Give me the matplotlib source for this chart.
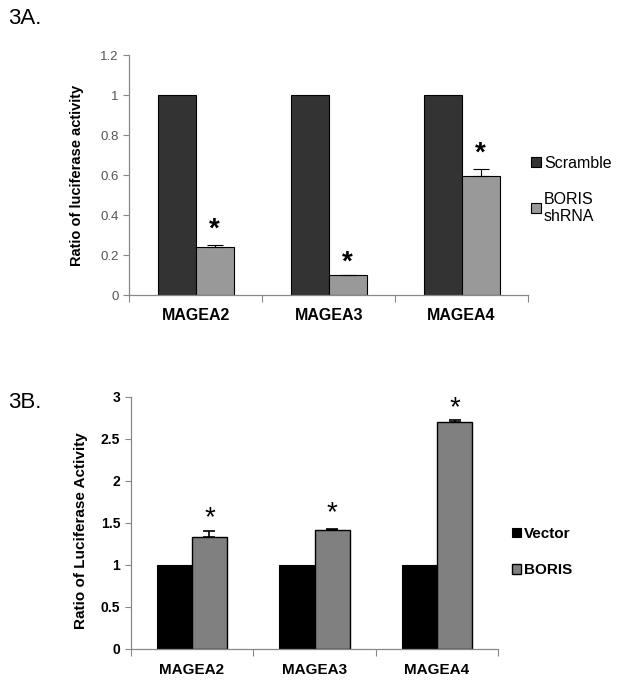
import numpy as np
import matplotlib.pyplot as plt
from matplotlib.transforms import offset_copy

plt.rcParams['font.family'] = ['Liberation Sans', 'DejaVu Sans']

genes = ['MAGEA2', 'MAGEA3', 'MAGEA4']

# panel A: knockdown
scramble = [1.0, 1.0, 1.0]
shrna = [0.238, 0.10, 0.595]
shrna_err = [0.01, 0.0, 0.035]
star_a = [0.36, 0.195, 0.74]

# panel B: overexpression
vector = [1.0, 1.0, 1.0]
boris = [1.335, 1.41, 2.70]
boris_err = [0.07, 0.01, 0.02]
star_b = [1.64, 1.70, 2.95]

fig = plt.figure(figsize=(6.21, 6.84), dpi=100)
w = 1 / 3.5
x = np.arange(len(genes))

# ---- 3A ----
ax1 = fig.add_axes([129.3 / 621, 1 - 295 / 684, 398.7 / 621, 240 / 684])
ax1.bar(x - w / 2, scramble, w, color='#333333', edgecolor='black', lw=0.8, label='Scramble')
ax1.bar(x + w / 2, shrna, w, color='#999999', edgecolor='black', lw=0.8, label='BORIS\nshRNA')
ax1.errorbar(x + w / 2, shrna, yerr=[np.zeros(3), shrna_err], fmt='none',
             ecolor='black', elinewidth=0.8, capsize=6, capthick=0.8)
star_tr1 = offset_copy(ax1.transData, fig=fig, y=-7, units='dots')
for xi, s in zip(x, star_a):
    ax1.text(xi + w / 2, s, '*', ha='center', va='center', fontsize=20,
             fontweight='bold', transform=star_tr1)
ax1.set_xlim(-0.5, 2.5)
ax1.set_ylim(0, 1.2)
ax1.set_yticks(np.arange(0, 1.21, 0.2))
ax1.set_yticklabels(['0', '0.2', '0.4', '0.6', '0.8', '1', '1.2'])
ax1.tick_params(axis='y', labelsize=9.5, labelcolor='#555555', color='#888888', length=4, width=0.8)
ax1.set_xticks([-0.5, 0.5, 1.5, 2.5])
ax1.set_xticklabels([])
ax1.set_xticks(x, minor=True)
ax1.set_xticklabels(genes, minor=True, fontsize=11.5, fontweight='bold')
ax1.tick_params(axis='x', which='major', color='#888888', length=5, width=0.8)
ax1.tick_params(axis='x', which='minor', length=0, pad=9)
for sp in ['top', 'right']:
    ax1.spines[sp].set_visible(False)
for sp in ['left', 'bottom']:
    ax1.spines[sp].set_color('#888888')
    ax1.spines[sp].set_linewidth(0.9)
ax1.set_ylabel('Ratio of luciferase activity', fontsize=10.5, fontweight='bold')
ax1.yaxis.set_label_coords(-0.113, 0.5)
ax1.legend(loc='center left', bbox_to_anchor=(531 / 621, 1 - 190 / 684),
           bbox_transform=fig.transFigure, frameon=False, fontsize=11.5,
           handlelength=0.6, handleheight=0.6, handletextpad=0.2, labelspacing=1.3,
           borderpad=0, borderaxespad=0)
fig.text(8 / 621, 1 - 18 / 684, '3A.', fontsize=16, va='center', ha='left')

# ---- 3B ----
ax2 = fig.add_axes([130.7 / 621, 1 - 648.7 / 684, 367.6 / 621, 252 / 684])
ax2.bar(x - w / 2, vector, w, color='black', edgecolor='black', lw=0.8, label='Vector')
ax2.bar(x + w / 2, boris, w, color='#808080', edgecolor='black', lw=1.0, label='BORIS')
ax2.errorbar(x + w / 2, boris, yerr=[np.zeros(3), boris_err], fmt='none',
             ecolor='black', elinewidth=1.2, capsize=4, capthick=1.2)
star_tr2 = offset_copy(ax2.transData, fig=fig, y=-7, units='dots')
for xi, s in zip(x, star_b):
    ax2.text(xi + w / 2, s, '*', ha='center', va='center', fontsize=20,
             transform=star_tr2)
ax2.set_xlim(-0.5, 2.5)
ax2.set_ylim(0, 3)
ax2.set_yticks(np.arange(0, 3.01, 0.5))
ax2.set_yticklabels(['0', '0.5', '1', '1.5', '2', '2.5', '3'], fontweight='bold')
ax2.tick_params(axis='y', labelsize=10, color='#888888', length=4, width=0.8)
ax2.set_xticks([-0.5, 0.5, 1.5, 2.5])
ax2.set_xticklabels([])
ax2.set_xticks(x, minor=True)
ax2.set_xticklabels(genes, minor=True, fontsize=11, fontweight='bold')
ax2.tick_params(axis='x', which='major', color='#888888', length=5, width=0.8)
ax2.tick_params(axis='x', which='minor', length=0, pad=10)
for sp in ['top', 'right']:
    ax2.spines[sp].set_visible(False)
for sp in ['left', 'bottom']:
    ax2.spines[sp].set_color('#888888')
    ax2.spines[sp].set_linewidth(0.9)
ax2.set_ylabel('Ratio of Luciferase Activity', fontsize=11, fontweight='bold')
ax2.yaxis.set_label_coords(-0.115, 0.47)
ax2.legend(loc='center left', bbox_to_anchor=(512 / 621, 1 - 552 / 684),
           bbox_transform=fig.transFigure, frameon=False,
           prop={'size': 11, 'weight': 'bold'},
           handlelength=0.6, handleheight=0.6, handletextpad=0.2, labelspacing=1.45,
           borderpad=0, borderaxespad=0)
fig.text(8 / 621, 1 - 402 / 684, '3B.', fontsize=16, va='center', ha='left')

fig.savefig('out.png', dpi=100)
